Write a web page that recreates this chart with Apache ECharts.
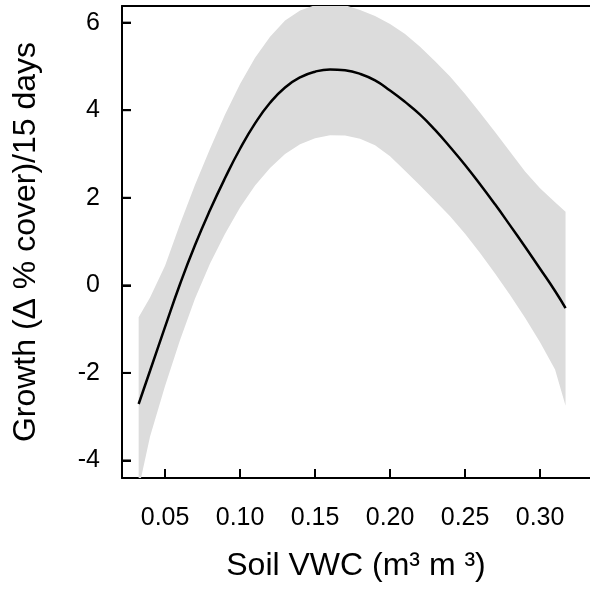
<!DOCTYPE html>
<html>
<head>
<meta charset="utf-8">
<script src="https://cdn.jsdelivr.net/npm/echarts@6/dist/echarts.min.js"></script>
<style>
  html, body { margin: 0; padding: 0; background: #fff; }
  #chart { width: 590px; height: 595px; }
</style>
</head>
<body>
<div id="chart"></div>
<script>
// soil moisture (m3 m-3)
var vwc = [0.0324, 0.04, 0.05, 0.06, 0.07, 0.08, 0.09, 0.10, 0.11, 0.12, 0.13, 0.14, 0.15, 0.16,
    0.17, 0.18, 0.19, 0.20, 0.21, 0.22, 0.23, 0.24, 0.25, 0.26, 0.27, 0.28, 0.29, 0.30, 0.31, 0.317];
// fitted growth
var fit = [-2.71, -1.95, -0.95, 0.03, 0.92, 1.72, 2.45, 3.12, 3.70, 4.17, 4.52, 4.75, 4.88, 4.93,
    4.91, 4.83, 4.68, 4.45, 4.19, 3.90, 3.55, 3.16, 2.75, 2.31, 1.85, 1.37, 0.88, 0.38, -0.13, -0.52];
// confidence band
var upper = [-0.73, -0.28, 0.45, 1.40, 2.30, 3.12, 3.90, 4.60, 5.20, 5.68, 6.05, 6.28, 6.40, 6.44,
    6.40, 6.29, 6.15, 5.97, 5.74, 5.45, 5.12, 4.77, 4.37, 3.94, 3.50, 3.05, 2.60, 2.22, 1.90, 1.68];
var lower = [-4.65, -3.45, -2.30, -1.25, -0.30, 0.50, 1.18, 1.78, 2.28, 2.68, 3.00, 3.22, 3.36, 3.43,
    3.42, 3.35, 3.20, 2.95, 2.62, 2.28, 1.93, 1.58, 1.18, 0.74, 0.27, -0.22, -0.74, -1.30, -1.92, -2.75];
var xTicks = [0.05, 0.10, 0.15, 0.20, 0.25, 0.30];
var yTicks = [-4, -2, 0, 2, 4, 6];

var X_MIN = 0.0213, X_MAX = 0.3333;
var fitData = vwc.map(function (x, i) { return [x, fit[i]]; });
var bandData = vwc.map(function (x, i) { return [x, lower[i], upper[i]]; });

var myChart = echarts.init(document.getElementById('chart'));
var font = 'Liberation Sans, Arial, sans-serif';
var axisLineStyle = { color: '#000', width: 2 };
var tickStyle = { color: '#000', width: 2 };

myChart.setOption({
    animation: false,
    grid: { left: 122, right: -10, top: 6, bottom: 117 },
    xAxis: [{
        type: 'value',
        min: X_MIN, max: X_MAX,
        name: 'Soil VWC (m³ m ³)',
        nameLocation: 'middle',
        nameGap: 72,
        nameTextStyle: { fontSize: 32, color: '#000', fontFamily: font },
        splitLine: { show: false },
        axisLine: { show: true, onZero: false, lineStyle: axisLineStyle },
        axisTick: { show: true, inside: true, length: 9, customValues: xTicks, lineStyle: tickStyle },
        axisLabel: {
            show: true, margin: 28, fontSize: 25, color: '#000', fontFamily: font,
            customValues: xTicks,
            formatter: function (v) { return v.toFixed(2); }
        }
    }, {
        // top frame line only
        type: 'value',
        position: 'top',
        min: X_MIN, max: X_MAX,
        splitLine: { show: false },
        axisLine: { show: true, onZero: false, lineStyle: axisLineStyle },
        axisTick: { show: false },
        axisLabel: { show: false }
    }],
    yAxis: {
        type: 'value',
        min: -4.4, max: 6.38,
        position: 'left',
        name: 'Growth (Δ % cover)/15 days',
        nameLocation: 'middle',
        nameGap: 80,
        nameTextStyle: { fontSize: 32, color: '#000', fontFamily: font },
        splitLine: { show: false },
        axisLine: { show: true, onZero: false, lineStyle: axisLineStyle },
        axisTick: { show: true, inside: true, length: 9, customValues: yTicks, lineStyle: tickStyle },
        axisLabel: {
            show: true, margin: 22, fontSize: 25, color: '#000', fontFamily: font,
            customValues: yTicks
        }
    },
    series: [
        {
            type: 'custom',
            clip: true,
            data: bandData,
            encode: { x: 0, y: [1, 2] },
            renderItem: function (params, api) {
                if (params.dataIndex !== 0) return;
                var top = [], bot = [];
                for (var i = 0; i < bandData.length; i++) {
                    top.push(api.coord([bandData[i][0], bandData[i][2]]));
                    bot.push(api.coord([bandData[i][0], bandData[i][1]]));
                }
                return {
                    type: 'polygon',
                    shape: { points: top.concat(bot.reverse()) },
                    style: { fill: '#dcdcdc' }
                };
            },
            z: 1
        },
        {
            // inward tick marks on the left axis, placed via the y scale
            type: 'custom',
            silent: true,
            data: yTicks.map(function (v) { return [X_MIN, v]; }),
            encode: { x: 0, y: 1 },
            renderItem: function (params, api) {
                var p = api.coord([X_MIN, api.value(1)]);
                return {
                    type: 'line',
                    shape: { x1: p[0], y1: p[1], x2: p[0] + 9, y2: p[1] },
                    style: { stroke: '#000', lineWidth: 2 }
                };
            },
            z: 4
        },
        {
            type: 'line',
            data: fitData,
            smooth: true,
            showSymbol: false,
            clip: true,
            lineStyle: { color: '#000', width: 2.5 },
            z: 3
        }
    ]
});
</script>
</body>
</html>
